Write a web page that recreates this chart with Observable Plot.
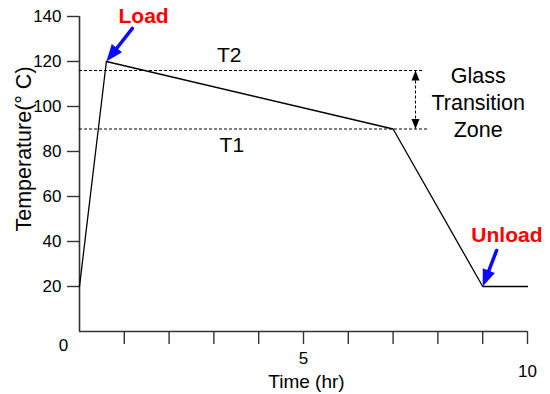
<!DOCTYPE html>
<html><head><meta charset="utf-8">
<script src="https://cdn.jsdelivr.net/npm/d3@7"></script>
<script src="https://cdn.jsdelivr.net/npm/@observablehq/plot@0.6"></script>
<style>body{margin:0;background:#fff}</style>
</head><body><div id="chart"></div>
<script>
// ---- data ----
const times = [0, 0.6, 7, 9, 10];
const temps = [20, 120, 90, 20, 20];
const yTicks = [20, 40, 60, 80, 100, 120, 140];
const xTicks = [1, 2, 3, 4, 5, 6, 7, 8, 9, 10];
const xLabels = [0, 5, 10];
const thresholdNames = ["T2", "T1"];
const thresholdValues = [116, 90];
const thresholdEnds = [7.7, 7.8];
const thresholdLabelX = [3.34, 3.4];
const thresholdLabelY = [122.7, 82.7];
const zoneText = "Glass\nTransition\nZone";
const zoneX = [8.9];
const zoneY = [102.2];
const zoneArrowX = [7.5];
const events = ["Load", "Unload"];
const eventLabelX = [1.43, 9.54];
const eventLabelY = [140.2, 42.7];
const eventTailX = [1.18, 9.31];
const eventTailY = [134.7, 36];
const eventTipX = [0.6, 9];
const eventTipY = [120, 20];
const xTitle = "Time (hr)";
const yTitle = "Temperature(° C)";

// ---- layout ----
const W = 550, H = 394, ML = 79, MR = 23, MT = 16, MB = 63;
const xDomain = [0, 10], yDomain = [0, 140];
const kx = (W - ML - MR) / (xDomain[1] - xDomain[0]);
const ky = (H - MT - MB) / (yDomain[1] - yDomain[0]);

function head(len, half) {
  return {draw(ctx) {
    ctx.moveTo(0, 0);
    ctx.lineTo(-half, len);
    ctx.lineTo(half, len);
    ctx.closePath();
  }};
}
const bigHead = head(17, 6.5);
const smallHead = head(10, 4);

const ev = events.map((name, i) => {
  const dxp = (eventTipX[i] - eventTailX[i]) * kx;
  const dyp = -(eventTipY[i] - eventTailY[i]) * ky;
  return {
    name, lx: eventLabelX[i], ly: eventLabelY[i],
    x1: eventTailX[i], y1: eventTailY[i], x2: eventTipX[i], y2: eventTipY[i],
    rot: Math.atan2(dxp, -dyp) * 180 / Math.PI
  };
});
const thr = thresholdNames.map((n, i) => ({n, v: thresholdValues[i], end: thresholdEnds[i], lx: thresholdLabelX[i], ly: thresholdLabelY[i]}));
const pts = times.map((t, i) => ({t, temp: temps[i]}));

const font = "Liberation Sans, Arial, Helvetica, sans-serif";

const chart = Plot.plot({
  width: W, height: H,
  marginLeft: ML, marginRight: MR, marginTop: MT, marginBottom: MB,
  x: {domain: xDomain},
  y: {domain: yDomain},
  style: {fontFamily: font, background: "white", color: "black", overflow: "visible"},
  marks: [
    // axes
    Plot.axisY(yTicks, {tickSize: 12, tickPadding: 6, fontSize: 17, label: null, stroke: "#333", strokeWidth: 1.4, fill: "black"}),
    Plot.axisX(xTicks, {tickSize: 13, tickFormat: () => "", label: null, stroke: "#333", strokeWidth: 1.4}),
    Plot.ruleX([0], {y1: yDomain[0], y2: yDomain[1], stroke: "#333", strokeWidth: 1.6}),
    Plot.ruleY([0], {x1: xDomain[0], x2: xDomain[1], stroke: "#333", strokeWidth: 1.6}),
    Plot.text([xLabels[0]], {x: d => d, frameAnchor: "bottom", lineAnchor: "middle", dx: -16, dy: 14, fontSize: 17}),
    Plot.text([xLabels[1]], {x: d => d, frameAnchor: "bottom", lineAnchor: "middle", dy: 27, fontSize: 17}),
    Plot.text([xLabels[2]], {x: d => d, frameAnchor: "bottom", lineAnchor: "middle", dy: 40, fontSize: 17}),
    Plot.text([xTitle], {frameAnchor: "bottom", lineAnchor: "middle", dx: 3, dy: 50, fontSize: 19}),
    Plot.text([yTitle], {frameAnchor: "left", textAnchor: "middle", lineAnchor: "middle", rotate: -90, dx: -55, dy: -25, fontSize: 21.5}),
    // thresholds
    Plot.ruleY(thr, {y: "v", x1: 0, x2: "end", stroke: "black", strokeWidth: 1, strokeDasharray: "3,2"}),
    Plot.text(thr, {x: "lx", y: "ly", text: "n", fontSize: 21}),
    // zone arrow
    Plot.ruleX(zoneArrowX, {y1: thresholdValues[1], y2: thresholdValues[0], stroke: "black", strokeWidth: 1, strokeDasharray: "3,2"}),
    Plot.dot(zoneArrowX, {x: d => d, y: thresholdValues[0], symbol: smallHead, r: 4, fill: "black", stroke: null, rotate: 0}),
    Plot.dot(zoneArrowX, {x: d => d, y: thresholdValues[1], symbol: smallHead, r: 4, fill: "black", stroke: null, rotate: 180}),
    Plot.text(zoneX, {x: d => d, y: zoneY[0], text: () => zoneText, fontSize: 21.5, lineHeight: 1.25}),
    // temperature profile
    Plot.line(pts, {x: "t", y: "temp", stroke: "black", strokeWidth: 1.3}),
    // load/unload annotations
    Plot.arrow(ev, {x1: "x1", y1: "y1", x2: "x2", y2: "y2", stroke: "#0a0aff", strokeWidth: 3.5, headLength: 0, insetEnd: 8}),
    Plot.dot(ev, {x: "x2", y: "y2", symbol: bigHead, r: 5, rotate: "rot", fill: "#0a0aff", stroke: null}),
    Plot.text(ev, {x: "lx", y: "ly", text: "name", fill: "#ff0000", fontWeight: "bold", fontSize: 21})
  ]
});
document.getElementById("chart").appendChild(chart);
</script>
</body></html>
